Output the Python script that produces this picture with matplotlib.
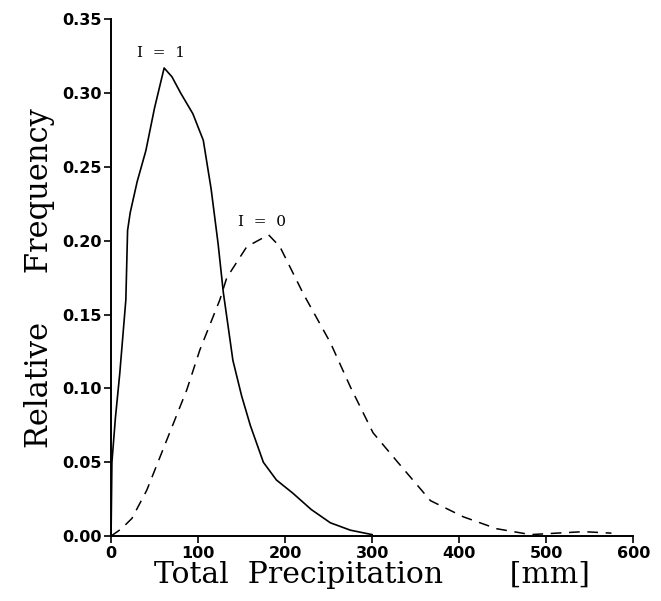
import matplotlib
matplotlib.use('Agg')
import matplotlib.pyplot as plt

# ---------------------------
# Data
# ---------------------------
# I = 1 (solid)
x_i1 = [0, 1, 5, 10, 17, 19, 22, 30, 40, 50, 61, 70, 80, 94, 106, 115, 123,
        129, 135, 140, 150, 160, 175, 190, 209, 230, 252, 275, 300]
y_i1 = [0.0, 0.05, 0.08, 0.11, 0.16, 0.207, 0.219, 0.24, 0.261, 0.29, 0.317,
        0.311, 0.30, 0.286, 0.268, 0.235, 0.198, 0.165, 0.14, 0.119, 0.095,
        0.075, 0.05, 0.038, 0.029, 0.018, 0.009, 0.004, 0.001]

# I = 0 (dashed)
x_i0 = [0, 12, 24, 41, 64, 87, 102, 125, 133, 156, 181, 194, 221, 252, 275,
        301, 328, 367, 405, 443, 482, 512, 543, 575]
y_i0 = [0.0, 0.005, 0.012, 0.031, 0.065, 0.099, 0.126, 0.16, 0.175, 0.196,
        0.204, 0.196, 0.164, 0.131, 0.101, 0.070, 0.051, 0.024, 0.013, 0.005,
        0.001, 0.002, 0.003, 0.002]

xticks = [0, 100, 200, 300, 400, 500, 600]
yticks = [0.00, 0.05, 0.10, 0.15, 0.20, 0.25, 0.30, 0.35]

fig = plt.figure(figsize=(6.61, 6.01), dpi=100)
ax = fig.add_axes([0.168, 0.108, 0.790, 0.860])

ax.plot(x_i1, y_i1, color='black', lw=1.2)
ax.plot(x_i0, y_i0, color='black', lw=1.1, dashes=(7, 5))

ax.set_xlim(0, 600)
ax.set_ylim(0, 0.35)
ax.set_xticks(xticks)
ax.set_yticks(yticks)
ax.set_xticklabels([str(t) for t in xticks])
ax.set_yticklabels([f'{t:.2f}' for t in yticks])

for s in ['top', 'right']:
    ax.spines[s].set_visible(False)
for s in ['left', 'bottom']:
    ax.spines[s].set_linewidth(1.4)

ax.tick_params(direction='out', length=5, width=1.2, pad=2)
for lab in ax.get_xticklabels() + ax.get_yticklabels():
    lab.set_fontfamily('DejaVu Sans')
    lab.set_fontweight('bold')
    lab.set_fontsize(11.5)

ax.set_xlabel('Total  Precipitation       [mm]', family='DejaVu Serif',
              fontsize=21.5, labelpad=0)
ax.set_ylabel('Relative     Frequency', family='DejaVu Serif',
              fontsize=22, labelpad=5)

ax.text(57, 0.327, 'I  =  1', family='DejaVu Serif', fontsize=11,
        ha='center', va='center')
ax.text(173, 0.2125, 'I  =  0', family='DejaVu Serif', fontsize=11,
        ha='center', va='center')

fig.savefig('out.png', dpi=100)
